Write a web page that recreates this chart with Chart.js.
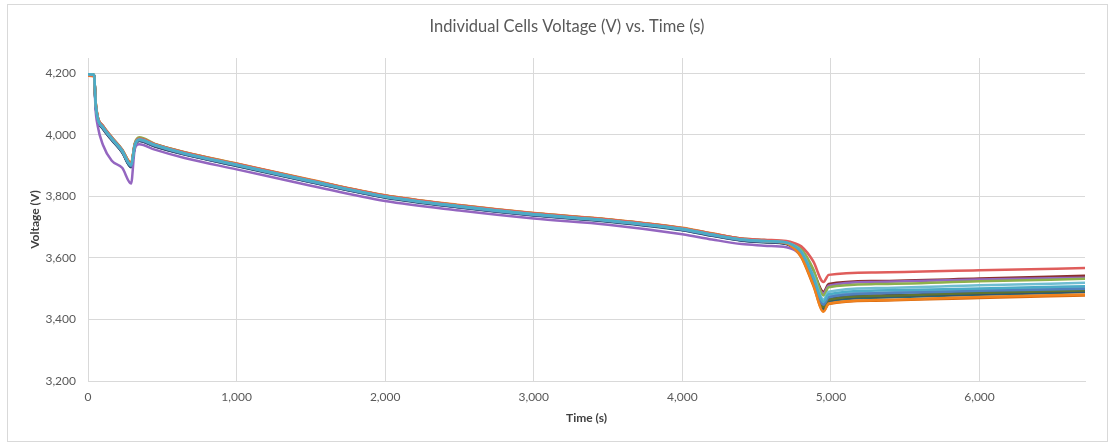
<!DOCTYPE html>
<html>
<head>
<meta charset="utf-8">
<script src="https://cdn.jsdelivr.net/npm/chart.js@4/dist/chart.umd.min.js"></script>
<style>
  body { margin: 0; background: #fff; }
  #frame { position: absolute; left: 7px; top: 4px; width: 1099px; height: 436px; border: 1px solid #d9d9d9; pointer-events: none; }
  canvas { position: absolute; left: 0; top: 0; }
</style>
</head>
<body>
<canvas id="chart" width="1108" height="444"></canvas>
<div id="frame"></div>
<script>
// time stamps (s), shared by every cell
const time = [0, 42, 50, 65, 100, 160, 230, 290, 315, 345, 450, 650, 1000, 1500, 2000, 2500, 3000, 3500, 4000, 4200, 4400, 4550, 4700, 4750, 4800, 4880, 4950, 4985, 5300, 6000, 6710];

// cell voltages
const cellAqua     = [4197, 4195, 4112, 4056, 4026, 3989, 3949, 3901, 3967, 3985, 3967, 3940, 3903, 3850, 3800, 3768, 3742, 3722, 3694, 3676, 3660, 3655, 3650, 3640, 3620, 3540, 3458, 3482, 3494, 3501, 3508];
const cellLtAqua   = [4197, 4195, 4111, 4055, 4025, 3988, 3948, 3902, 3966, 3985, 3967, 3940, 3903, 3850, 3800, 3768, 3742, 3722, 3694, 3676, 3660, 3655, 3650, 3641, 3622, 3545, 3465, 3490, 3502, 3511, 3519];
const cellBlue     = [4196, 4194, 4108, 4053, 4023, 3986, 3946, 3899, 3964, 3983, 3965, 3938, 3901, 3848, 3798, 3766, 3740, 3720, 3692, 3674, 3658, 3653, 3648, 3637, 3616, 3532, 3448, 3472, 3485, 3493, 3500];
const cellRed      = [4195, 4193, 4115, 4060, 4030, 3992, 3952, 3906, 3970, 3988, 3970, 3943, 3906, 3853, 3803, 3771, 3745, 3725, 3697, 3679, 3663, 3659, 3655, 3649, 3638, 3590, 3522, 3545, 3553, 3560, 3567];
const cellGreen    = [4197, 4195, 4116, 4060, 4030, 3993, 3953, 3907, 3973, 3992, 3971, 3944, 3906, 3853, 3803, 3771, 3745, 3725, 3697, 3679, 3663, 3658, 3653, 3645, 3630, 3565, 3478, 3505, 3515, 3524, 3532];
const cellPurple   = [4196, 4194, 4090, 4030, 3968, 3916, 3893, 3842, 3955, 3970, 3952, 3925, 3888, 3835, 3785, 3754, 3728, 3708, 3677, 3660, 3645, 3640, 3635, 3627, 3610, 3545, 3485, 3510, 3522, 3530, 3536];
const cellOrange   = [4192, 4190, 4114, 4059, 4029, 3991, 3951, 3910, 3970, 3987, 3970, 3944, 3907, 3854, 3804, 3772, 3746, 3726, 3698, 3680, 3662, 3655, 3648, 3632, 3605, 3515, 3425, 3452, 3463, 3473, 3481];
const cellDkBlue   = [4196, 4194, 4106, 4051, 4021, 3984, 3944, 3896, 3962, 3981, 3963, 3937, 3900, 3847, 3797, 3765, 3739, 3719, 3691, 3673, 3657, 3652, 3646, 3634, 3612, 3528, 3438, 3462, 3475, 3484, 3492];
const cellDkRed    = [4196, 4194, 4113, 4058, 4028, 3990, 3950, 3904, 3969, 3987, 3969, 3942, 3905, 3852, 3802, 3770, 3744, 3724, 3696, 3678, 3662, 3657, 3652, 3643, 3628, 3560, 3490, 3515, 3525, 3533, 3542];
const cellDkGreen  = [4197, 4195, 4110, 4054, 4024, 3987, 3947, 3900, 3965, 3984, 3966, 3939, 3902, 3849, 3799, 3767, 3741, 3721, 3693, 3675, 3659, 3654, 3648, 3636, 3615, 3530, 3440, 3464, 3476, 3486, 3494];
const cellDkPurple = [4196, 4194, 4108, 4052, 4022, 3985, 3945, 3898, 3963, 3982, 3964, 3938, 3901, 3848, 3798, 3766, 3740, 3720, 3692, 3674, 3658, 3653, 3647, 3635, 3614, 3530, 3442, 3466, 3478, 3488, 3496];
const cellDkTeal   = [4196, 4194, 4105, 4050, 4020, 3983, 3943, 3895, 3961, 3980, 3962, 3936, 3899, 3846, 3796, 3764, 3738, 3718, 3690, 3672, 3656, 3651, 3645, 3632, 3610, 3525, 3435, 3458, 3471, 3480, 3489];
const cellDkOrange = [4194, 4192, 4112, 4057, 4027, 3990, 3950, 3905, 3968, 3986, 3968, 3942, 3905, 3852, 3802, 3770, 3744, 3724, 3696, 3678, 3661, 3654, 3647, 3630, 3603, 3512, 3428, 3450, 3461, 3470, 3478];
const cellLtBlue   = [4197, 4195, 4109, 4054, 4024, 3987, 3947, 3900, 3965, 3984, 3966, 3939, 3902, 3849, 3799, 3767, 3741, 3721, 3693, 3675, 3659, 3654, 3649, 3638, 3618, 3536, 3450, 3475, 3487, 3496, 3504];

const xTicks = [0, 1000, 2000, 3000, 4000, 5000, 6000];
const yTicks = [3200, 3400, 3600, 3800, 4000, 4200];

// first entry is drawn on top
const cells = [
  ['Cell 1', cellAqua, '#4BACC6'],
  ['Cell 2', cellLtAqua, '#6FBDD1'],
  ['Cell 3', cellRed, '#DF5D5B'],
  ['Cell 4', cellGreen, '#8DB04C'],
  ['Cell 5', cellOrange, '#F0821E'],
  ['Cell 6', cellBlue, '#4F81BD'],
  ['Cell 7', cellPurple, '#9466C0'],
  ['Cell 8', cellDkRed, '#8B2F2D'],
  ['Cell 9', cellDkGreen, '#5F7530'],
  ['Cell 10', cellDkPurple, '#4D3B62'],
  ['Cell 11', cellDkBlue, '#2C4D75'],
  ['Cell 12', cellDkTeal, '#276A7C'],
  ['Cell 13', cellDkOrange, '#D96A10'],
  ['Cell 14', cellLtBlue, '#729ACA'],
];

const FONT = 'Lato';
const TEXT_COLOR = '#595959';
const GRID_COLOR = '#d9d9d9';

const titlePlugin = {
  id: 'excelTitle',
  afterDraw(chart) {
    const ctx = chart.ctx;
    ctx.save();
    ctx.font = '16.5px ' + FONT;
    ctx.fillStyle = TEXT_COLOR;
    ctx.textAlign = 'center';
    ctx.textBaseline = 'middle';
    ctx.fillText('Individual Cells Voltage (V) vs. Time (s)', 567, 27);
    ctx.restore();
  },
};

new Chart(document.getElementById('chart'), {
  type: 'line',
  data: {
    datasets: cells.map(([label, values, color]) => ({
      label,
      data: time.map((t, i) => ({ x: t, y: values[i] })),
      borderColor: color,
      backgroundColor: color,
      borderWidth: 2.5,
      pointRadius: 0,
      cubicInterpolationMode: 'monotone',
    })),
  },
  options: {
    responsive: false,
    animation: false,
    locale: 'en-US',
    layout: { padding: { top: 58, right: 23, bottom: 0, left: 0 } },
    plugins: {
      legend: { display: false },
      tooltip: { enabled: false },
      title: { display: false },
    },
    scales: {
      x: {
        type: 'linear',
        min: 0,
        max: 6710,
        afterBuildTicks: (scale) => { scale.ticks = xTicks.map((v) => ({ value: v })); },
        afterFit: (scale) => { scale.height = 63; },
        grid: { color: GRID_COLOR, drawTicks: false },
        border: { color: GRID_COLOR },
        ticks: { color: TEXT_COLOR, font: { family: FONT, size: 12 }, padding: 9, maxRotation: 0 },
        title: {
          display: true,
          text: 'Time (s)',
          color: '#404040',
          font: { family: FONT, size: 12, weight: 'bold' },
          padding: { top: 0, bottom: 19 },
        },
      },
      y: {
        min: 3200,
        max: 4250,
        afterBuildTicks: (scale) => { scale.ticks = yTicks.map((v) => ({ value: v })); },
        afterFit: (scale) => { scale.width = 88; },
        grid: { color: GRID_COLOR, drawTicks: false },
        border: { color: GRID_COLOR },
        ticks: { color: TEXT_COLOR, font: { family: FONT, size: 12 }, padding: 12 },
        title: {
          display: true,
          text: 'Voltage (V)',
          color: '#404040',
          font: { family: FONT, size: 12, weight: 'bold' },
          padding: { top: 28, bottom: 0 },
        },
      },
    },
  },
  plugins: [titlePlugin],
});
</script>
</body>
</html>
